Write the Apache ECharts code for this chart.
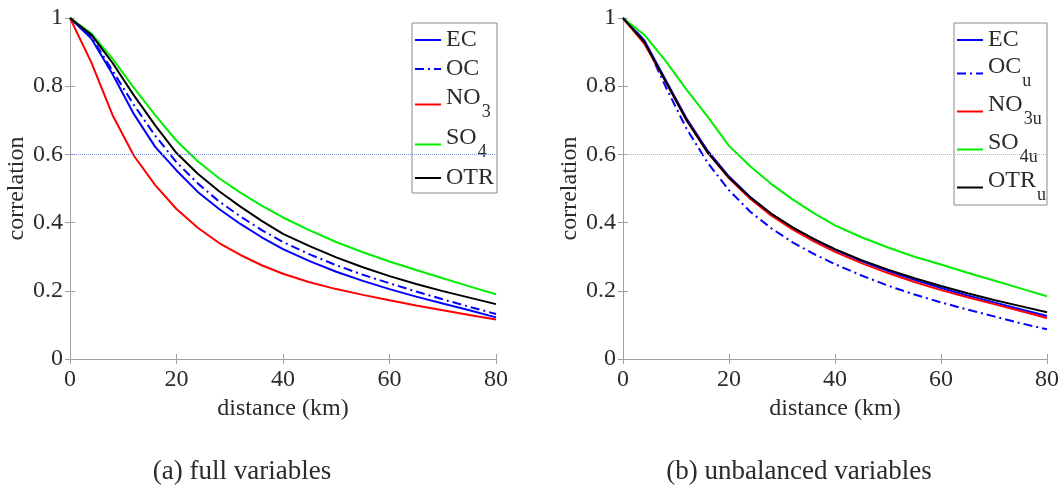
<!DOCTYPE html>
<html>
<head>
<meta charset="utf-8">
<script src="https://cdn.jsdelivr.net/npm/echarts@6/dist/echarts.min.js"></script>
<style>html,body{margin:0;padding:0;background:#fff}#c{width:1064px;height:488px}</style>
</head>
<body>
<div id="c"></div>
<script>
// distance (km)
const X = [0,4,8,12,16,20,24,28,32,36,40,45,50,55,60,65,70,75,80];
// (a) full variables
const EC_a  = [1,0.940,0.835,0.718,0.622,0.553,0.490,0.440,0.396,0.357,0.322,0.287,0.256,0.229,0.205,0.183,0.163,0.143,0.122];
const OC_a  = [1,0.945,0.845,0.745,0.655,0.577,0.515,0.462,0.418,0.378,0.343,0.307,0.275,0.247,0.222,0.198,0.175,0.153,0.132];
const NO3_a = [1,0.870,0.715,0.596,0.510,0.440,0.385,0.340,0.305,0.275,0.250,0.225,0.205,0.188,0.172,0.157,0.143,0.129,0.116];
const SO4_a = [1,0.955,0.880,0.795,0.715,0.640,0.580,0.530,0.488,0.450,0.415,0.377,0.343,0.313,0.286,0.261,0.237,0.213,0.190];
const OTR_a = [1,0.951,0.868,0.773,0.685,0.604,0.543,0.492,0.447,0.405,0.367,0.331,0.298,0.269,0.243,0.220,0.199,0.180,0.161];
// (b) unbalanced variables
const EC_b  = [1,0.935,0.820,0.705,0.610,0.535,0.475,0.425,0.385,0.350,0.320,0.287,0.258,0.232,0.208,0.186,0.166,0.146,0.126];
const OC_b  = [1,0.935,0.800,0.675,0.575,0.495,0.432,0.383,0.342,0.308,0.278,0.245,0.215,0.189,0.166,0.145,0.125,0.105,0.087];
const NO3_b = [1,0.925,0.815,0.700,0.605,0.530,0.470,0.420,0.380,0.345,0.314,0.281,0.252,0.226,0.202,0.181,0.161,0.141,0.120];
const SO4_b = [1,0.951,0.875,0.790,0.710,0.625,0.565,0.513,0.468,0.428,0.392,0.357,0.327,0.300,0.277,0.253,0.230,0.207,0.184];
const OTR_b = [1,0.930,0.815,0.700,0.605,0.532,0.474,0.426,0.386,0.352,0.322,0.290,0.262,0.237,0.214,0.193,0.173,0.155,0.137];
const refLevel = 0.605;
const captions = ['(a) full variables', '(b) unbalanced variables'];

const FONT = 'Liberation Serif';
const TXT = '#2b2b2b';
const AX = '#a0a0a0';
const pts = arr => X.map((x,i)=>[x,arr[i]]);

const legendRich = {
  m: {fontFamily: FONT, fontSize: 24, color: TXT},
  mb: {fontFamily: FONT, fontSize: 24, color: TXT, padding: [0,0,13,0]},
  s: {fontFamily: FONT, fontSize: 18, color: TXT, padding: [15,0,0,1]}
};
const labelMap = {
  'EC': '{m|EC}', 'OC': '{m|OC}', 'NO3': '{mb|NO}{s|3}', 'SO4': '{mb|SO}{s|4}', 'OTR': '{m|OTR}',
  'OCu': '{mb|OC}{s|u}', 'NO3u': '{mb|NO}{s|3u}', 'SO4u': '{mb|SO}{s|4u}', 'OTRu': '{mb|OTR}{s|u}'
};

function axesFor(g) {
  const base = {
    type: 'value', gridIndex: g,
    axisLine: {show: true, lineStyle: {color: AX, width: 1}},
    axisTick: {show: true, inside: true, length: 5, lineStyle: {color: AX}},
    splitLine: {show: false}
  };
  return {
    x: [
      Object.assign({}, base, {min: 0, max: 80, interval: 20, position: 'bottom',
        axisLabel: {fontFamily: FONT, fontSize: 24, color: TXT, margin: 9},
        name: 'distance (km)', nameLocation: 'middle', nameGap: 36,
        nameTextStyle: {fontFamily: FONT, fontSize: 24, color: TXT}}),
      Object.assign({}, base, {min: 0, max: 80, interval: 20, position: 'top', axisLabel: {show: false}})
    ],
    y: [
      Object.assign({}, base, {min: 0, max: 1, interval: 0.2, position: 'left',
        axisLabel: {fontFamily: FONT, fontSize: 24, color: TXT, margin: 7},
        name: 'correlation', nameLocation: 'middle', nameGap: 35, nameRotate: 90,
        nameTextStyle: {fontFamily: FONT, fontSize: 24, color: TXT}}),
      Object.assign({}, base, {min: 0, max: 1, interval: 0.2, position: 'right', axisLabel: {show: false}})
    ]
  };
}
const a0 = axesFor(0), a1 = axesFor(1);

function line(name, data, color, g, dash, mark) {
  const s = {
    name, type: 'line', xAxisIndex: g*2, yAxisIndex: g*2, data: pts(data),
    symbol: 'none', smooth: false,
    lineStyle: {color, width: 2, type: dash ? [9,4,2,4] : 'solid'},
    itemStyle: {color}
  };
  if (mark) {
    s.markLine = {silent: true, symbol: 'none', label: {show: false},
      lineStyle: {type: 'dotted', color: mark, width: 1},
      data: [{yAxis: refLevel}]};
  }
  return s;
}

const legendBase = {
  orient: 'vertical', backgroundColor: '#fff', borderColor: '#8a8a8a', borderWidth: 1,
  itemWidth: 26, itemHeight: 12, itemGap: 5, selectedMode: false,
  itemStyle: {opacity: 0},
  textStyle: {fontFamily: FONT, fontSize: 24, color: TXT, rich: legendRich},
  formatter: n => labelMap[n] || n
};

const option = {
  animation: false,
  backgroundColor: '#fff',
  grid: [
    {left: 70, top: 18, width: 426, height: 341},
    {left: 623, top: 18, width: 424, height: 341}
  ],
  xAxis: [a0.x[0], a0.x[1], a1.x[0], a1.x[1]].map((ax,i)=>Object.assign(ax,{gridIndex: i<2?0:1})),
  yAxis: [a0.y[0], a0.y[1], a1.y[0], a1.y[1]].map((ax,i)=>Object.assign(ax,{gridIndex: i<2?0:1})),
  legend: [
    Object.assign({}, legendBase, {left: 412, top: 23, padding: [5,3,3,2],
      data: ['EC','OC','NO3','SO4','OTR']}),
    Object.assign({}, legendBase, {left: 954, top: 23, padding: [5,1,1,2], itemGap: 3,
      data: ['EC','OCu','NO3u','SO4u','OTRu']})
  ],
  graphic: [
    {type: 'text', x: 242, y: 472, style: {text: captions[0], font: '27px "Liberation Serif"', fill: TXT, textAlign: 'center', textVerticalAlign: 'middle'}},
    {type: 'text', x: 799, y: 472, style: {text: captions[1], font: '27px "Liberation Serif"', fill: TXT, textAlign: 'center', textVerticalAlign: 'middle'}}
  ],
  series: [
    line('EC', EC_a, '#0000ff', 0, false, '#7f8fd8'),
    line('OC', OC_a, '#0000ff', 0, true),
    line('NO3', NO3_a, '#ff0000', 0, false),
    line('SO4', SO4_a, '#00ee00', 0, false),
    line('OTR', OTR_a, '#000000', 0, false),
    line('EC', EC_b, '#0000ff', 1, false, '#8fd08f'),
    line('OCu', OC_b, '#0000ff', 1, true),
    line('NO3u', NO3_b, '#ff0000', 1, false),
    line('SO4u', SO4_b, '#00ee00', 1, false),
    line('OTRu', OTR_b, '#000000', 1, false)
  ]
};
const chart = echarts.init(document.getElementById('c'));
chart.setOption(option);
</script>
</body>
</html>
